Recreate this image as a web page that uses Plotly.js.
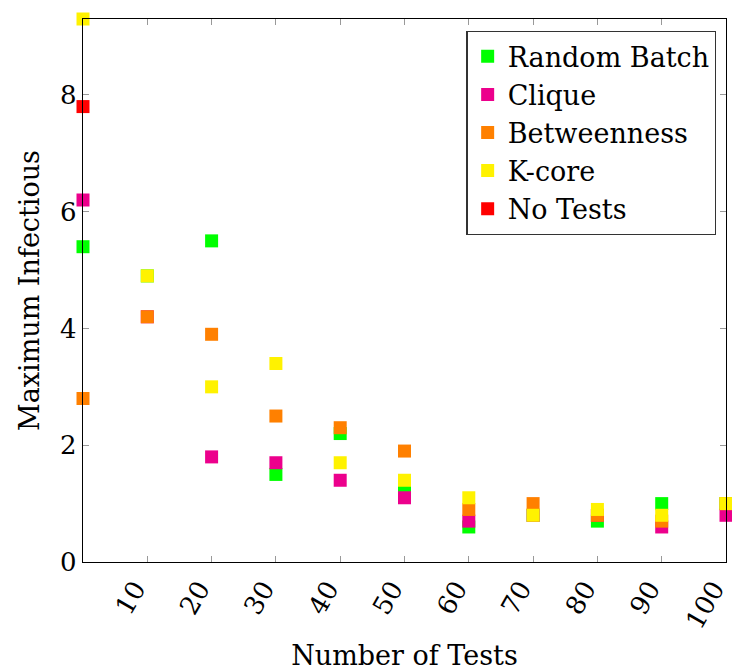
<!DOCTYPE html>
<html>
<head>
<meta charset="utf-8">
<script src="https://cdn.plot.ly/plotly-3.0.1.min.js"></script>
<style>html,body{margin:0;padding:0;background:#fff;}#chart{width:732px;height:671px;}</style>
</head>
<body>
<div id="chart"></div>
<script>
const tests = [0, 10, 20, 30, 40, 50, 60, 70, 80, 90, 100];
const randomBatch = [5.4, 4.9, 5.5, 1.5, 2.2, 1.3, 0.6, 0.8, 0.7, 1.0, 1.0];
const clique      = [6.2, 4.2, 1.8, 1.7, 1.4, 1.1, 0.7, 0.8, 0.8, 0.6, 0.8];
const betweenness = [2.8, 4.2, 3.9, 2.5, 2.3, 1.9, 0.9, 1.0, 0.8, 0.7, 1.0];
const kcore       = [9.3, 4.9, 3.0, 3.4, 1.7, 1.4, 1.1, 0.8, 0.9, 0.8, 1.0];
const noTestsX = [0];
const noTests  = [7.8];
const seriesNames = ["Random Batch", "Clique", "Betweenness", "K-core", "No Tests"];
const seriesColors = ["#00ff00", "#ec008c", "#ff8000", "#fff200", "#ff0000"];
const xTicks = [10, 20, 30, 40, 50, 60, 70, 80, 90, 100];
const yTicks = [0, 2, 4, 6, 8];

const FONT = "DejaVu Serif, serif";
const ys = [randomBatch, clique, betweenness, kcore, noTests];
const xs = [tests, tests, tests, tests, noTestsX];
const traces = ys.map((y, i) => ({
  type: "scatter", mode: "markers", name: seriesNames[i],
  x: xs[i], y: y, cliponaxis: false, legendgroup: "g" + i,
  marker: {symbol: "square", size: 13, color: seriesColors[i], line: {width: 0}}
}));

const layout = {
  width: 732, height: 671,
  margin: {l: 83, r: 6, t: 19, b: 109},
  paper_bgcolor: "#fff", plot_bgcolor: "#fff",
  font: {family: FONT, size: 27, color: "#000"},
  showlegend: true,
  legend: {
    x: 0.985, y: 0.978, xanchor: "right", yanchor: "top",
    bgcolor: "#fff", bordercolor: "#333", borderwidth: 1.3,
    font: {family: FONT, size: 27, color: "#000"},
    tracegroupgap: 0, itemwidth: 20
  },
  xaxis: {
    range: [0, 100], tickvals: xTicks, ticktext: xTicks.map(String),
    tickangle: -60, ticks: "inside", ticklen: 6, tickcolor: "#999", tickwidth: 1,
    ticklabeloverflow: "allow", ticklabelshift: -12,
    showline: true, linecolor: "#000", linewidth: 1.3, mirror: "ticks",
    showgrid: false, zeroline: false,
    tickfont: {family: FONT, size: 26},
    title: {text: "Number of Tests", font: {family: FONT, size: 27}, standoff: 18}
  },
  yaxis: {
    range: [0, 9.3], tickvals: yTicks, ticktext: yTicks.map(String),
    ticks: "inside", ticklen: 6, tickcolor: "#999", tickwidth: 1,
    showline: true, linecolor: "#000", linewidth: 1.3, mirror: "ticks",
    showgrid: false, zeroline: false,
    tickfont: {family: FONT, size: 26},
    title: {text: "Maximum Infectious", font: {family: FONT, size: 27}, standoff: 12}
  }
};
Plotly.newPlot("chart", traces, layout, {displayModeBar: false, staticPlot: true});
</script>
</body>
</html>
